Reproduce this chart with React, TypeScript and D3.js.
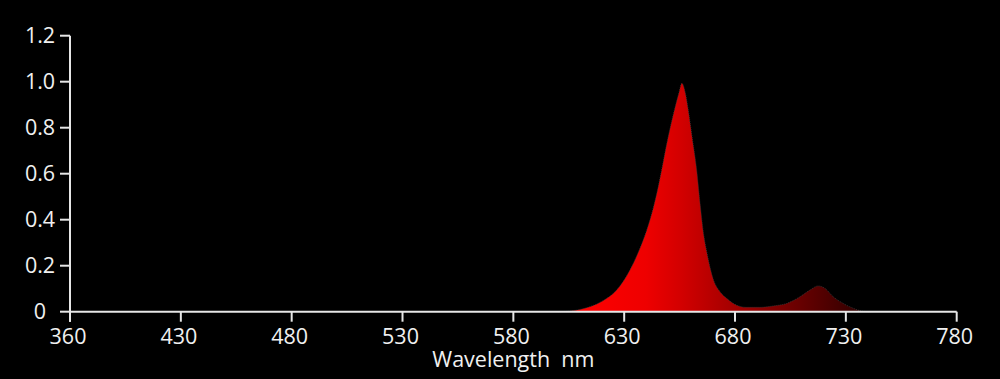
import React, { useEffect } from "react";
import * as d3 from "d3";

// Spectrum samples (wavelength nm, relative intensity)
const wavelengths = [600, 605.5, 614.6, 620.5, 626.6, 632.6, 636.8, 640.2, 643.1, 645.3, 647.2, 649.0, 651.0, 653.0, 654.8, 656.0, 657.6, 658.9, 660.6, 662.7, 664.2, 666.0, 667.2, 670.2, 673.2, 676.2, 679.2, 685.2, 691.2, 697.2, 703.3, 709.3, 713.8, 717.5, 720.5, 724.3, 728.8, 733.3, 737.7, 742];
const intensity = [0, 0.003, 0.022, 0.048, 0.094, 0.181, 0.268, 0.355, 0.45, 0.54, 0.63, 0.72, 0.81, 0.89, 0.955, 0.993, 0.95, 0.877, 0.761, 0.616, 0.473, 0.326, 0.262, 0.14, 0.087, 0.058, 0.036, 0.019, 0.019, 0.025, 0.036, 0.065, 0.094, 0.112, 0.102, 0.065, 0.036, 0.015, 0.002, 0];

// Axis ticks (positions on a 380–780 scale, labels as printed)
const xTickValues = [380, 430, 480, 530, 580, 630, 680, 730, 780];
const xTickLabels = ["360", "430", "480", "530", "580", "630", "680", "730", "780"];
const yTickValues = [0, 0.2, 0.4, 0.6, 0.8, 1.0, 1.2];
const yTickLabels = ["0", "0.2", "0.4", "0.6", "0.8", "1.0", "1.2"];

// Gradient stops (wavelength → colour)
const gradWl = [610, 640, 656, 685, 720, 742];
const gradColor = ["#ff0000", "#ee0000", "#d20000", "#980000", "#520000", "#240000"];

const W = 1000;
const H = 379;
const FONT = "'Open Sans', 'Noto Sans', sans-serif";
const AXIS = "#e6e6e6";
const FS = 21.5;

export default function App() {
  useEffect(() => {
    document.body.style.margin = "0";
    document.body.style.background = "#000";
  }, []);

  const x = d3.scaleLinear().domain([380, 780]).range([70, 956.7]);
  const y = d3.scaleLinear().domain([0, 1.2]).range([311.7, 35.7]);

  const data = wavelengths.map((w, i) => ({ w, v: intensity[i] }));
  const area = d3
    .area<{ w: number; v: number }>()
    .x((d) => x(d.w))
    .y0(y(0))
    .y1((d) => y(d.v))
    .curve(d3.curveMonotoneX);

  const x0 = x(380);
  const x1 = x(780);
  const yBase = y(0);
  const yTop = y(1.2);

  return (
    <svg width={W} height={H} style={{ display: "block", background: "#000" }}>
      <defs>
        <linearGradient id="spec" gradientUnits="userSpaceOnUse" x1={x(gradWl[0])} x2={x(gradWl[gradWl.length - 1])} y1={0} y2={0}>
          {gradWl.map((w, i) => (
            <stop
              key={i}
              offset={(w - gradWl[0]) / (gradWl[gradWl.length - 1] - gradWl[0])}
              stopColor={gradColor[i]}
            />
          ))}
        </linearGradient>
      </defs>
      <rect x={0} y={0} width={W} height={H} fill="#000" />
      <path d={area(data) || ""} fill="url(#spec)" stroke="#3a3a3a" strokeWidth={0.8} strokeDasharray="1 1" />

      {/* Y axis */}
      <line x1={x0} x2={x0} y1={yTop} y2={yBase + 10} stroke={AXIS} strokeWidth={2} />
      {yTickValues.map((t, i) => (
        <g key={"y" + i}>
          <line x1={x0 - 10} x2={x0} y1={y(t)} y2={y(t)} stroke={AXIS} strokeWidth={2} />
          <text
            x={40}
            y={y(t)}
            dy="0.36em"
            textAnchor="middle"
            fill="#f0f0f0"
            fontFamily={FONT}
            fontSize={FS}
          >
            {yTickLabels[i]}
          </text>
        </g>
      ))}

      {/* X axis */}
      <line x1={x0} x2={x1} y1={yBase} y2={yBase} stroke={AXIS} strokeWidth={2} />
      {xTickValues.map((t, i) => (
        <g key={"x" + i}>
          <line x1={x(t)} x2={x(t)} y1={yBase} y2={yBase + 10} stroke={AXIS} strokeWidth={2} />
          <text
            x={x(t) - 2}
            y={yBase + 25}
            dy="0.36em"
            textAnchor="middle"
            fill="#f0f0f0"
            fontFamily={FONT}
            fontSize={FS}
          >
            {xTickLabels[i]}
          </text>
        </g>
      ))}
      <text
        x={(x0 + x1) / 2}
        y={367}
        textAnchor="middle"
        fill="#f0f0f0"
        fontFamily={FONT}
        fontSize={FS}
        style={{ whiteSpace: "pre" }}
      >
        {"Wavelength  nm"}
      </text>
    </svg>
  );
}
